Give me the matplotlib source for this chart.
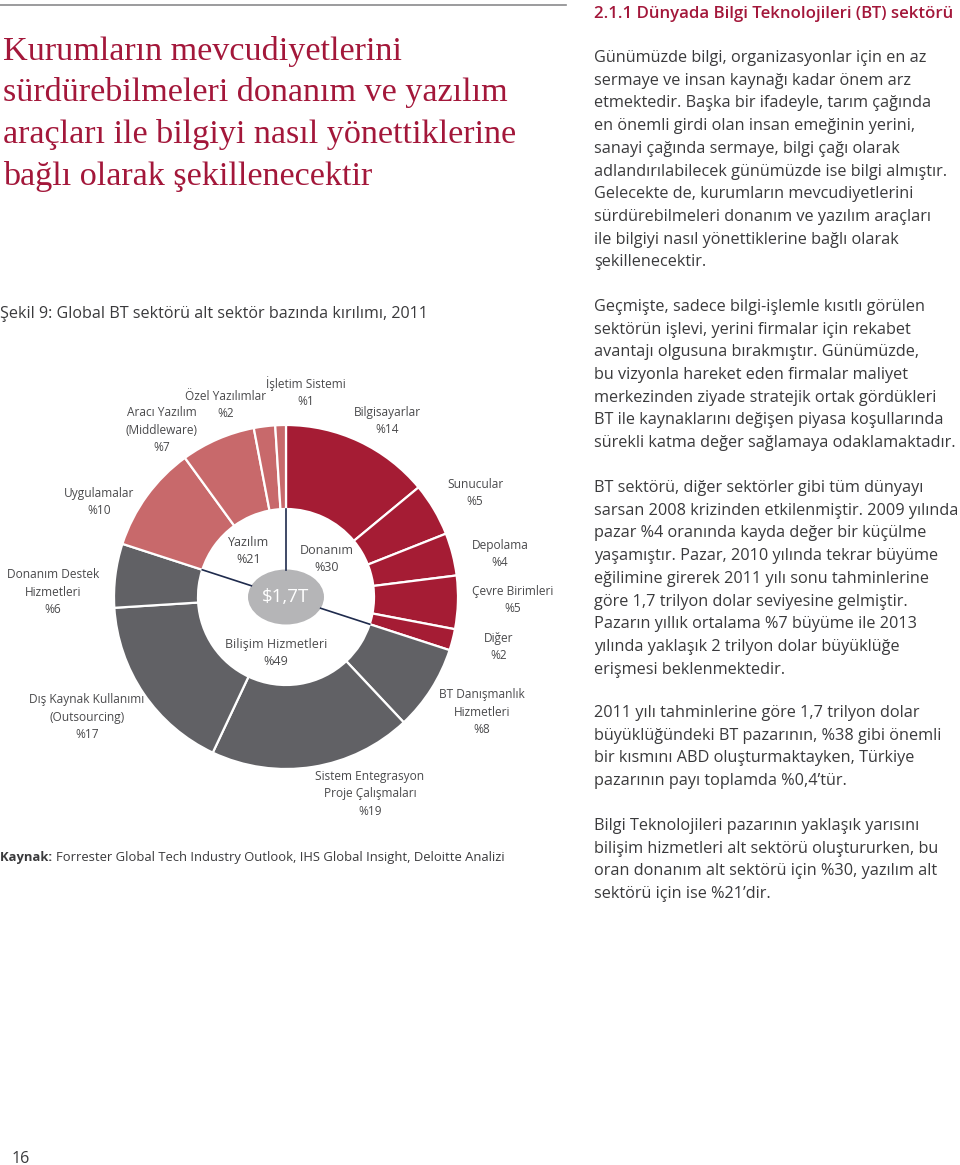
import numpy as np
import matplotlib.pyplot as plt
from matplotlib.patches import Ellipse

W, H = 960, 1165
SANS = ["Open Sans", "DejaVu Sans"]
SERIF = ["Liberation Serif", "DejaVu Serif"]
CRIMSON = "#a3173a"
TEXT = "#3a3a3c"
LABEL = "#4a4a4c"

# outer ring, clockwise from 12 o'clock
seg_names = ["Bilgisayarlar", "Sunucular", "Depolama", "Çevre Birimleri", "Diğer",
             "BT Danışmanlık\nHizmetleri", "Sistem Entegrasyon\nProje Çalışmaları",
             "Dış Kaynak Kullanımı\n(Outsourcing)", "Donanım Destek\nHizmetleri",
             "Uygulamalar", "Aracı Yazılım\n(Middleware)", "Özel Yazılımlar",
             "İşletim Sistemi"]
seg_values = [14, 5, 4, 5, 2, 8, 19, 17, 6, 10, 7, 2, 1]
seg_group = [0, 0, 0, 0, 0, 1, 1, 1, 1, 2, 2, 2, 2]

# inner groups
group_names = ["Donanım", "Bilişim Hizmetleri", "Yazılım"]
group_shares = [30, 49, 21]
group_colors = ["#a51c34", "#616165", "#c8696b"]
total_label = r"\$1,7T"

# layout (pixels)
CX, CY, R_OUT, R_IN = 286, 597, 172, 88
seg_label_xy = [(387, 421), (475, 493), (500, 554), (513, 600), (499, 647),
                (482, 712), (370, 794), (87, 717), (53, 592), (99, 502),
                (162, 430), (226, 405), (306, 392)]
group_label_xy = [(327, 559), (276, 653), (249, 551)]

title_lines = ["Kurumların mevcudiyetlerini",
               "sürdürebilmeleri donanım ve yazılım",
               "araçları ile bilgiyi nasıl yönettiklerine",
               "bağlı olarak şekillenecektir"]

paragraphs = [
    (62, ["Günümüzde bilgi, organizasyonlar için en az",
          "sermaye ve insan kaynağı kadar önem arz",
          "etmektedir. Başka bir ifadeyle, tarım çağında",
          "en önemli girdi olan insan emeğinin yerini,",
          "sanayi çağında sermaye, bilgi çağı olarak",
          "adlandırılabilecek günümüzde ise bilgi almıştır.",
          "Gelecekte de, kurumların mevcudiyetlerini",
          "sürdürebilmeleri donanım ve yazılım araçları",
          "ile bilgiyi nasıl yönettiklerine bağlı olarak",
          "şekillenecektir."]),
    (311, ["Geçmişte, sadece bilgi-işlemle kısıtlı görülen",
           "sektörün işlevi, yerini firmalar için rekabet",
           "avantajı olgusuna bırakmıştır. Günümüzde,",
           "bu vizyonla hareket eden firmalar maliyet",
           "merkezinden ziyade stratejik ortak gördükleri",
           "BT ile kaynaklarını değişen piyasa koşullarında",
           "sürekli katma değer sağlamaya odaklamaktadır."]),
    (492, ["BT sektörü, diğer sektörler gibi tüm dünyayı",
           "sarsan 2008 krizinden etkilenmiştir. 2009 yılında",
           "pazar %4 oranında kayda değer bir küçülme",
           "yaşamıştır. Pazar, 2010 yılında tekrar büyüme",
           "eğilimine girerek 2011 yılı sonu tahminlerine",
           "göre 1,7 trilyon dolar seviyesine gelmiştir.",
           "Pazarın yıllık ortalama %7 büyüme ile 2013",
           "yılında yaklaşık 2 trilyon dolar büyüklüğe",
           "erişmesi beklenmektedir."]),
    (717, ["2011 yılı tahminlerine göre 1,7 trilyon dolar",
           "büyüklüğündeki BT pazarının, %38 gibi önemli",
           "bir kısmını ABD oluşturmaktayken, Türkiye",
           "pazarının payı toplamda %0,4’tür."]),
    (830, ["Bilgi Teknolojileri pazarının yaklaşık yarısını",
           "bilişim hizmetleri alt sektörü oluştururken, bu",
           "oran donanım alt sektörü için %30, yazılım alt",
           "sektörü için ise %21’dir."]),
]


def fx(x):
    return x / W


def fy(y):
    return 1 - y / H


fig = plt.figure(figsize=(W / 100, H / 100), dpi=100)
fig.patch.set_facecolor("white")

# top rule
fig.add_artist(plt.Line2D([0, fx(566)], [fy(5), fy(5)], color="#8a8a8c", lw=1.2))

for i, line in enumerate(title_lines):
    fig.text(fx(3), fy(60 + 41.5 * i), line, family=SERIF, fontsize=24.6,
             color=CRIMSON, va="baseline", ha="left")

fig.text(fx(594), fy(18), "2.1.1 Dünyada Bilgi Teknolojileri (BT) sektörü",
         family=SANS, fontsize=12.1, color=CRIMSON, va="baseline", weight="semibold")

for y0, lines in paragraphs:
    for i, line in enumerate(lines):
        fig.text(fx(594), fy(y0 + 22.7 * i), line, family=SANS, fontsize=11.7,
                 color=TEXT, va="baseline")

fig.text(fx(0), fy(318), "Şekil 9: Global BT sektörü alt sektör bazında kırılımı, 2011",
         family=SANS, fontsize=11.6, color=TEXT, va="baseline")

# donut
ax = fig.add_axes([fx(CX - R_OUT), fy(CY + R_OUT), fx(2 * R_OUT), 2 * R_OUT / H])
colors = [group_colors[g] for g in seg_group]
ax.pie(seg_values, colors=colors, startangle=90, counterclock=False, radius=1,
       wedgeprops=dict(width=1 - R_IN / R_OUT, edgecolor="white", linewidth=1.6))
ax.set_xlim(-1, 1)
ax.set_ylim(-1, 1)
ax.axis("off")

ea, eb = 76 / 2 / R_OUT, 55 / 2 / R_OUT
ax.add_patch(Ellipse((0, 0), 2 * ea, 2 * eb, facecolor="#b5b5b7", edgecolor="none"))
ax.text(0, 0, total_label, family=SANS, fontsize=13.5, color="white",
        ha="center", va="center")

# group separators
r_hole = R_IN / R_OUT
cum = np.cumsum([0] + [sum(v for v, g in zip(seg_values, seg_group) if g == k)
                       for k in range(3)])[:3]
for c in cum:
    th = np.deg2rad(90 - 360 * c / sum(seg_values))
    r0 = ea * eb / np.hypot(eb * np.cos(th), ea * np.sin(th))
    ax.plot([r0 * np.cos(th), r_hole * np.cos(th)],
            [r0 * np.sin(th), r_hole * np.sin(th)], color="#1f2b4d", lw=1.2)

for name, v, (x, y) in zip(seg_names, seg_values, seg_label_xy):
    fig.text(fx(x), fy(y), f"{name}\n%{v}", family=SANS, fontsize=8.6,
             color=LABEL, ha="center", va="center", linespacing=1.45)

for name, v, (x, y) in zip(group_names, group_shares, group_label_xy):
    fig.text(fx(x), fy(y), f"{name}\n%{v}", family=SANS, fontsize=9.0,
             color=LABEL, ha="center", va="center", linespacing=1.4)

src = fig.text(fx(0), fy(861), "Kaynak: ", family=SANS, fontsize=9.4,
               color=TEXT, weight="bold", va="baseline")
fig.canvas.draw()
bb = src.get_window_extent()
fig.text(bb.x1 / W, fy(861),
         "Forrester Global Tech Industry Outlook, IHS Global Insight, Deloitte Analizi",
         family=SANS, fontsize=9.4, color=TEXT, va="baseline")

fig.text(fx(12), fy(1163), "16", family=SANS, fontsize=11.5, color=TEXT, va="baseline")

fig.savefig("out.png", dpi=100)
